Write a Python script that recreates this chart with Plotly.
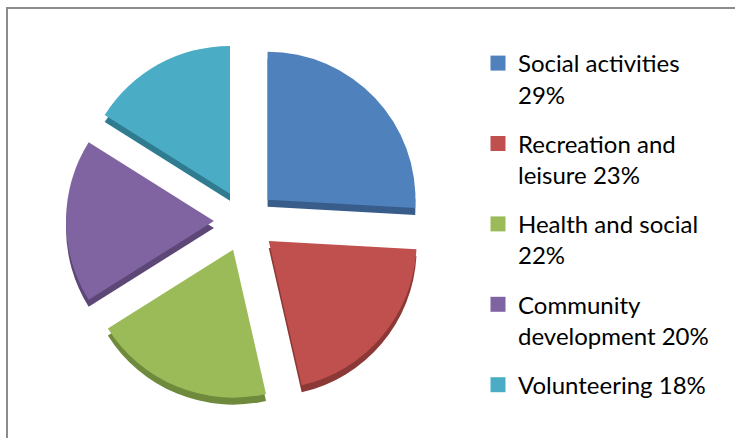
import plotly.graph_objects as go

categories = ["Social activities", "Recreation and leisure", "Health and social",
              "Community development", "Volunteering"]
values = [29, 23, 22, 20, 18]
legend_labels = ["Social activities<br>29%", "Recreation and<br>leisure 23%",
                 "Health and social<br>22%", "Community<br>development 20%",
                 "Volunteering 18%"]
colors = ["#4F81BD", "#C0504D", "#9BBB59", "#8064A2", "#4BACC6"]
side_colors = ["#385D8A", "#8C3836", "#6F8A3C", "#5C4776", "#2F7C91"]

W, H = 735, 438
pull = 0.21
dom_x = [66 / W, 424 / W]
dom_y = [1 - 400 / H, 1 - 42 / H]
depth = 7 / H

fig = go.Figure()

# extruded side (3D depth)
fig.add_trace(go.Pie(
    labels=categories, values=values, sort=False, direction="clockwise",
    rotation=0, pull=[pull] * len(values),
    marker=dict(colors=side_colors, line=dict(width=0)),
    textinfo="none", hoverinfo="skip", showlegend=False,
    domain=dict(x=dom_x, y=[dom_y[0] - depth, dom_y[1] - depth]),
))
# top face
fig.add_trace(go.Pie(
    labels=categories, values=values, sort=False, direction="clockwise",
    rotation=0, pull=[pull] * len(values),
    marker=dict(colors=colors, line=dict(width=0)),
    textinfo="none", showlegend=False,
    domain=dict(x=dom_x, y=dom_y),
))

# legend entries
for lab, col in zip(legend_labels, colors):
    fig.add_trace(go.Scatter(
        x=[None], y=[None], mode="markers", name=lab, legendgroup=lab,
        marker=dict(symbol="square", size=15, color=col),
        showlegend=True, hoverinfo="skip",
    ))

fig.add_shape(type="rect", xref="paper", yref="paper",
              x0=7 / W, x1=1.02, y0=-0.02, y1=1 - 8 / H,
              line=dict(color="#8C8C8C", width=2), fillcolor="rgba(0,0,0,0)",
              layer="below")

fig.update_layout(
    width=W, height=H,
    margin=dict(l=0, r=0, t=0, b=0),
    paper_bgcolor="white", plot_bgcolor="white",
    xaxis=dict(visible=False), yaxis=dict(visible=False),
    showlegend=True,
    legend=dict(
        x=478 / W, xanchor="left", y=1 - 41 / H, yanchor="top",
        font=dict(family="Lato", size=24, color="#000000"),
        valign="top", tracegroupgap=15, traceorder="grouped",
        bgcolor="rgba(0,0,0,0)", borderwidth=0, itemsizing="trace",
    ),
)

fig.write_html("out.html",
               config={"displayModeBar": False},
               post_script="document.body.style.margin='0px';"
                           "document.body.style.overflow='hidden';")
